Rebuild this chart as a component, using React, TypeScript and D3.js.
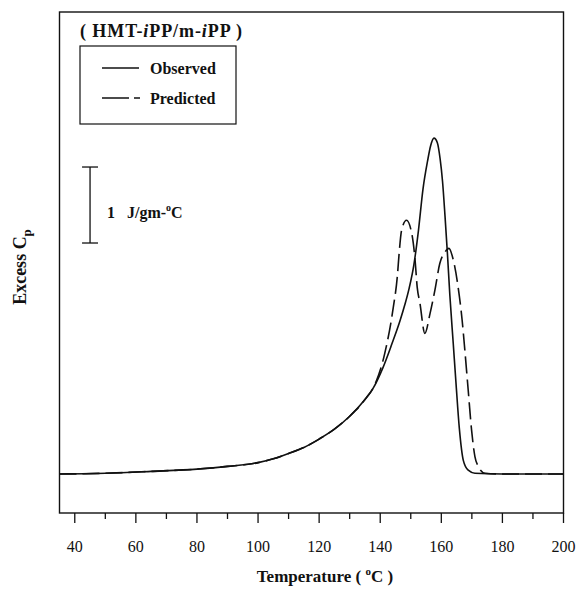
import React from 'react';
import * as d3 from 'd3';

// Observed excess Cp (J/gm-°C above baseline) vs temperature (°C)
const obsTemp = [35, 50, 65, 80, 90, 100, 105, 110, 115, 120, 125, 130, 135, 137.7, 140.9, 143.8, 146.5, 148, 149.5, 151, 152.5, 154, 155.5, 156.5, 157.6, 158.7, 159.6, 160.4, 161.2, 162, 162.8, 163.9, 164.8, 165.9, 167.2, 168.8, 171.0, 180, 200];
const obsCp = [0, 0.01, 0.035, 0.065, 0.10, 0.15, 0.20, 0.27, 0.35, 0.46, 0.59, 0.76, 0.98, 1.13, 1.40, 1.71, 2.02, 2.22, 2.45, 2.75, 3.2, 3.75, 4.12, 4.32, 4.42, 4.36, 4.15, 3.85, 3.4, 2.9, 2.35, 1.72, 1.2, 0.6, 0.18, 0.05, 0.01, 0, 0];

// Predicted excess Cp
const predTemp = [35, 50, 65, 80, 90, 100, 105, 110, 115, 120, 125, 130, 135, 138.5, 141.5, 144.3, 145.6, 146.2, 147.0, 148.6, 150.3, 151.4, 152.1, 153.0, 154.6, 156.3, 157.9, 159.5, 161.2, 162.5, 163.9, 165.5, 166.8, 167.7, 168.8, 169.9, 171.0, 172.1, 174.3, 180, 200];
const predCp = [0, 0.01, 0.035, 0.065, 0.10, 0.15, 0.20, 0.27, 0.35, 0.46, 0.59, 0.76, 0.98, 1.2, 1.59, 2.20, 2.60, 2.91, 3.21, 3.34, 3.17, 2.82, 2.46, 2.25, 1.85, 2.11, 2.42, 2.77, 2.92, 2.97, 2.82, 2.46, 2.03, 1.63, 1.105, 0.58, 0.23, 0.10, 0.01, 0, 0];

const xMajorTicks = [40, 60, 80, 100, 120, 140, 160, 180, 200];
const xMinorTicks = [50, 70, 90, 110, 130, 150, 170, 190];

// 1 J/gm-°C scale bar
const scaleBarCp = [3.04, 4.04];
const scaleBarTemp = 45;

const FONT = "'Liberation Serif', 'Times New Roman', serif";

export default function App() {
  const W = 579, H = 597;
  const left = 59.5, right = 563.5, top = 12, bottom = 513;
  const x = d3.scaleLinear().domain([35, 200]).range([left, right]);
  const y = d3.scaleLinear().domain([-0.513, 6.08]).range([bottom, top]);
  const line = d3.line<[number, number]>()
    .x(d => x(d[0]))
    .y(d => y(d[1]))
    .curve(d3.curveMonotoneX);
  const obs = obsTemp.map((t, i) => [t, obsCp[i]] as [number, number]);
  const pred = predTemp.map((t, i) => [t, predCp[i]] as [number, number]);
  const sbx = x(scaleBarTemp);

  return (
    <svg width={W} height={H} style={{ position: 'absolute', left: 0, top: 0, background: '#fff' }} fontFamily={FONT}>
      <rect x={0} y={0} width={W} height={H} fill="#fff" />
      {/* frame */}
      <rect x={left} y={top} width={right - left} height={bottom - top} fill="none" stroke="#111" strokeWidth={1.4} />
      {/* ticks */}
      {xMajorTicks.map(t => (
        <g key={'M' + t}>
          <line x1={x(t)} x2={x(t)} y1={bottom} y2={bottom + 10} stroke="#111" strokeWidth={1.3} />
          <text x={x(t)} y={552} fontSize={16} textAnchor="middle" fill="#111">{t}</text>
        </g>
      ))}
      {xMinorTicks.map(t => (
        <line key={'m' + t} x1={x(t)} x2={x(t)} y1={bottom} y2={bottom + 6} stroke="#111" strokeWidth={1.3} />
      ))}
      {/* curves */}
      <path d={line(obs) || ''} fill="none" stroke="#111" strokeWidth={1.6} />
      <path d={line(pred) || ''} fill="none" stroke="#111" strokeWidth={1.6} strokeDasharray="17,6" />
      {/* legend */}
      <text x={80} y={37} fontSize={18} fontWeight="bold" fill="#111" textLength={162} lengthAdjust="spacing">
        ( HMT-<tspan fontStyle="italic">i</tspan>PP/m-<tspan fontStyle="italic">i</tspan>PP )
      </text>
      <rect x={80} y={46} width={156} height={78} fill="none" stroke="#111" strokeWidth={1.2} />
      <line x1={102} x2={139} y1={68} y2={68} stroke="#111" strokeWidth={1.3} />
      <text x={150} y={73.5} fontSize={16} fontWeight="bold" fill="#111">Observed</text>
      <line x1={102} x2={140} y1={98} y2={98} stroke="#111" strokeWidth={1.3} strokeDasharray="27,5" />
      <text x={150} y={104} fontSize={16} fontWeight="bold" fill="#111">Predicted</text>
      {/* scale bar */}
      <line x1={sbx} x2={sbx} y1={y(scaleBarCp[0])} y2={y(scaleBarCp[1])} stroke="#111" strokeWidth={1.3} />
      <line x1={sbx - 8} x2={sbx + 8} y1={y(scaleBarCp[0])} y2={y(scaleBarCp[0])} stroke="#111" strokeWidth={1.3} />
      <line x1={sbx - 8} x2={sbx + 8} y1={y(scaleBarCp[1])} y2={y(scaleBarCp[1])} stroke="#111" strokeWidth={1.3} />
      <text x={107} y={218} fontSize={16} fontWeight="bold" fill="#111">1</text>
      <text x={127} y={218} fontSize={16} fontWeight="bold" fill="#111">
        J/gm-<tspan dy={-7} fontSize={10}>o</tspan><tspan dy={7}>C</tspan>
      </text>
      {/* y axis title */}
      <text transform="translate(26,267) rotate(-90)" textAnchor="middle" fontSize={18} fontWeight="bold" fill="#111">
        Excess C<tspan dy={5} fontSize={13}>p</tspan>
      </text>
      {/* x axis title */}
      <text x={325} y={582} textAnchor="middle" fontSize={17} fontWeight="bold" fill="#111">
        Temperature ( <tspan dy={-7} fontSize={11}>o</tspan><tspan dy={7}>C )</tspan>
      </text>
    </svg>
  );
}
